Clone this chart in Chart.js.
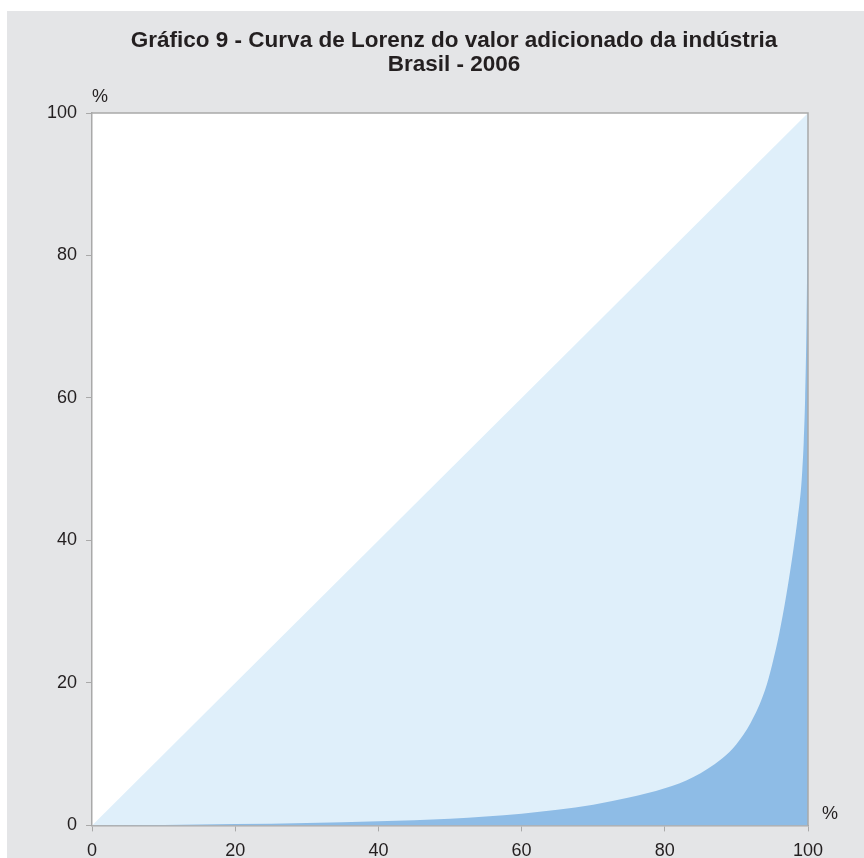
<!DOCTYPE html>
<html>
<head>
<meta charset="utf-8">
<script src="https://cdn.jsdelivr.net/npm/chart.js@4/dist/chart.umd.min.js"></script>
<style>
  html, body { margin: 0; padding: 0; background: #fff; overflow: hidden; }
  #panel { position: absolute; left: 7px; top: 11px; width: 857px; height: 847px; background: #e4e5e7; overflow: hidden; }
  #chart { display: block; }
</style>
</head>
<body>
<div id="panel"><canvas id="chart" width="857" height="860"></canvas></div>
<script>
// Lorenz curve: cumulative % of firms (x) vs cumulative % of value added (y)
const firmsShare = [0, 10, 20, 30, 40, 50, 55, 60, 65, 70, 75, 80, 84, 88, 90, 92, 94, 95, 96, 97, 98, 98.5, 99, 99.2, 99.4, 99.6, 99.8, 99.9, 100];
const valueShare = [0, 0.05, 0.18, 0.35, 0.6, 0.95, 1.25, 1.65, 2.2, 2.9, 3.9, 5.2, 6.8, 9.4, 11.4, 14.4, 19.0, 22.6, 27.0, 32.5, 39.0, 42.7, 47.0, 49.8, 53.8, 60, 71, 81, 100];
// line of perfect equality
const equalityX = [0, 100];
const equalityY = [0, 100];
const tickValues = [0, 20, 40, 60, 80, 100];

const titleLines = ['Gráfico 9 - Curva de Lorenz do valor adicionado da indústria', 'Brasil - 2006'];
const FONT = "'Liberation Sans', Arial, sans-serif";
const TEXT = '#231f20';
const AXIS = '#a9a9a9';

const toPoints = (xs, ys) => xs.map((x, i) => ({x: x, y: ys[i]}));

const frame = {
  id: 'frame',
  beforeDraw(chart) {
    const {ctx, chartArea: a} = chart;
    ctx.save();
    ctx.fillStyle = '#ffffff';
    ctx.fillRect(a.left, a.top, a.right - a.left, a.bottom - a.top);
    ctx.restore();
  },
  afterDraw(chart) {
    const {ctx, chartArea: a} = chart;
    ctx.save();
    ctx.strokeStyle = AXIS;
    ctx.lineWidth = 1.5;
    ctx.beginPath();
    ctx.moveTo(a.left, a.top);
    ctx.lineTo(a.right, a.top);
    ctx.lineTo(a.right, a.bottom);
    ctx.stroke();

    ctx.fillStyle = TEXT;
    ctx.textAlign = 'center';
    ctx.textBaseline = 'middle';
    ctx.font = 'bold 22.5px ' + FONT;
    const cx = (a.left + a.right) / 2 + 4;
    ctx.fillText(titleLines[0], cx, 30);
    ctx.fillText(titleLines[1], cx, 54);

    ctx.font = '18px ' + FONT;
    ctx.fillText('%', a.left + 8, 86);
    ctx.fillText('%', a.right + 22, 803);
    ctx.restore();
  }
};

const axisOpts = {
  type: 'linear',
  min: 0,
  max: 100,
  afterBuildTicks: axis => { axis.ticks = tickValues.map(v => ({value: v})); },
  ticks: { color: TEXT, font: { family: FONT, size: 18 }, padding: 9 },
  grid: { display: true, drawOnChartArea: false, drawTicks: true, tickLength: 6, color: AXIS },
  border: { display: true, color: AXIS, width: 1.5 }
};

new Chart(document.getElementById('chart'), {
  type: 'line',
  data: {
    datasets: [
      {
        label: 'Curva de Lorenz',
        data: toPoints(firmsShare, valueShare),
        backgroundColor: '#8ebce6',
        borderColor: 'rgba(0,0,0,0)',
        borderWidth: 0,
        pointRadius: 0,
        fill: 'origin',
        cubicInterpolationMode: 'monotone',
        order: 0
      },
      {
        label: 'Igualdade',
        data: toPoints(equalityX, equalityY),
        backgroundColor: '#dfeffa',
        borderColor: 'rgba(0,0,0,0)',
        borderWidth: 0,
        pointRadius: 0,
        fill: 'origin',
        order: 1
      }
    ]
  },
  options: {
    responsive: false,
    animation: false,
    layout: { padding: { left: 31, right: 56, top: 102, bottom: 0 } },
    plugins: {
      legend: { display: false },
      title: { display: false },
      tooltip: { enabled: false }
    },
    scales: {
      x: Object.assign({}, axisOpts, { position: 'bottom' }),
      y: Object.assign({}, axisOpts, { position: 'left' })
    }
  },
  plugins: [frame]
});
</script>
</body>
</html>
